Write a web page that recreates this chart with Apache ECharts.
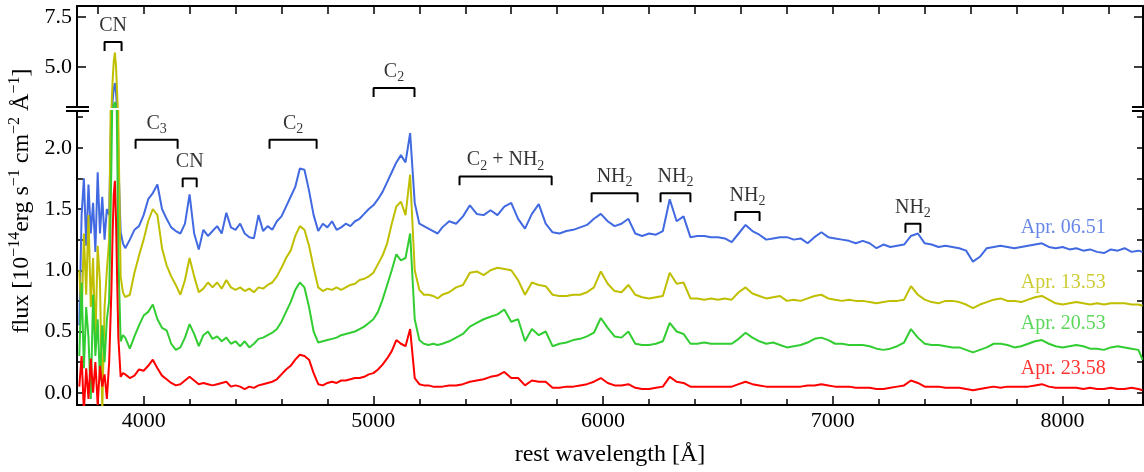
<!DOCTYPE html>
<html>
<head>
<meta charset="utf-8">
<script src="https://cdn.jsdelivr.net/npm/echarts@6/dist/echarts.min.js"></script>
<style>
  html, body { margin: 0; padding: 0; background: #fff; }
  #chart { width: 1144px; height: 472px; }
</style>
</head>
<body>
<div id="chart"></div>
<script>
  // rest wavelength grid [A]
  var wavelength = [
    3720, 3730, 3740, 3750, 3760, 3770, 3780, 3790, 3800, 3810, 3820, 3830, 3840,
    3850, 3860, 3865, 3870, 3875, 3880, 3885, 3890, 3900, 3910,
    3920, 3940, 3960, 3980, 4000, 4020, 4040, 4060, 4080, 4100,
    4120, 4140, 4160, 4180, 4200, 4220, 4240, 4260, 4280, 4300,
    4320, 4340, 4360, 4380, 4400, 4420, 4440, 4460, 4480, 4500,
    4520, 4540, 4560, 4580, 4600, 4620, 4640, 4660, 4680, 4700,
    4720, 4740, 4760, 4780, 4800, 4820, 4840, 4860, 4880, 4900,
    4920, 4940, 4960, 4980, 5000, 5020, 5040, 5060, 5080, 5100,
    5120, 5140, 5160, 5180, 5200, 5220, 5240, 5260, 5280, 5300,
    5330, 5360, 5390, 5420, 5450, 5480, 5510, 5540, 5570, 5600,
    5630, 5660, 5690, 5720, 5750, 5780, 5810, 5840, 5870, 5900,
    5930, 5960, 5990, 6020, 6050, 6080, 6110, 6140, 6170, 6200,
    6230, 6260, 6290, 6320, 6350, 6380, 6410, 6440, 6470, 6500,
    6530, 6560, 6590, 6620, 6650, 6680, 6710, 6740, 6770, 6800,
    6830, 6860, 6890, 6920, 6950, 6980, 7010, 7040, 7070, 7100,
    7130, 7160, 7190, 7220, 7250, 7280, 7310, 7340, 7370, 7400,
    7430, 7460, 7490, 7520, 7550, 7580, 7610, 7640, 7670, 7700,
    7730, 7760, 7790, 7820, 7850, 7880, 7910, 7940, 7970, 8000,
    8030, 8060, 8090, 8120, 8150, 8180, 8210, 8240, 8270, 8300,
    8330, 8348
  ]

  // flux [1e-14 erg s-1 cm-2 A-1], with offsets as plotted
  var fluxApr06 = [
    0.55, 1.45, 1.75, 1.20, 1.70, 1.30, 1.55, 1.15, 1.80, 1.30, 1.60, 1.25, 1.50,
    1.45, 2.40, 3.30, 3.90, 4.20, 3.70, 2.80, 1.90, 1.31, 1.22,
    1.18, 1.25, 1.33, 1.36, 1.45, 1.58, 1.63, 1.70, 1.50, 1.42,
    1.35, 1.32, 1.30, 1.38, 1.62, 1.30, 1.17, 1.33, 1.28, 1.32,
    1.36, 1.30, 1.47, 1.35, 1.33, 1.38, 1.30, 1.27, 1.26, 1.45,
    1.32, 1.36, 1.33, 1.40, 1.44, 1.52, 1.60, 1.68, 1.83, 1.82,
    1.65, 1.45, 1.32, 1.38, 1.35, 1.40, 1.33, 1.35, 1.38, 1.36,
    1.40, 1.42, 1.46, 1.50, 1.53, 1.58, 1.64, 1.72, 1.80, 1.88,
    1.94, 1.88, 2.12, 1.55, 1.38, 1.36, 1.34, 1.32, 1.30, 1.35,
    1.40, 1.38, 1.44, 1.53, 1.46, 1.45, 1.49, 1.45, 1.52, 1.55,
    1.42, 1.34, 1.46, 1.54, 1.38, 1.31, 1.30, 1.32, 1.33, 1.35,
    1.37, 1.42, 1.46, 1.40, 1.36, 1.38, 1.42, 1.30, 1.28, 1.30,
    1.29, 1.32, 1.58, 1.40, 1.44, 1.27, 1.28, 1.28, 1.27, 1.27,
    1.26, 1.23, 1.30, 1.37, 1.32, 1.29, 1.25, 1.26, 1.27, 1.27,
    1.25, 1.26, 1.22, 1.27, 1.31, 1.27, 1.26, 1.25, 1.24, 1.22,
    1.24, 1.22, 1.18, 1.21, 1.19, 1.20, 1.21, 1.28, 1.30, 1.22,
    1.21, 1.19, 1.20, 1.19, 1.18, 1.16, 1.07, 1.11, 1.18, 1.19,
    1.20, 1.19, 1.18, 1.19, 1.20, 1.21, 1.22, 1.19, 1.18, 1.19,
    1.17, 1.18, 1.16, 1.17, 1.15, 1.14, 1.17, 1.16, 1.18, 1.15,
    1.16, 1.15
  ]
  var fluxApr13 = [
    1.00, 0.60, 1.30, 0.80, 1.45, 0.70, 1.10, 0.40, 1.20, 0.90, -0.15, 0.70, 1.00,
    1.25, 2.90, 4.30, 5.30, 5.72, 5.00, 3.60, 2.20, 0.95, 0.82,
    0.78, 0.80, 0.98, 1.12, 1.25, 1.40, 1.50, 1.45, 1.18, 1.04,
    0.95, 0.88, 0.80, 0.92, 1.10, 0.95, 0.82, 0.85, 0.90, 0.86,
    0.90, 0.85, 0.92, 0.86, 0.84, 0.86, 0.83, 0.85, 0.82, 0.86,
    0.85, 0.88, 0.90, 0.95, 1.02, 1.10, 1.16, 1.28, 1.36, 1.33,
    1.20, 1.02, 0.86, 0.83, 0.85, 0.84, 0.86, 0.84, 0.86, 0.88,
    0.89, 0.92, 0.93, 0.95, 0.98, 1.05, 1.12, 1.22, 1.38, 1.52,
    1.56, 1.45, 1.78, 1.00, 0.84, 0.80, 0.80, 0.79, 0.77, 0.80,
    0.82, 0.86, 0.88, 0.98, 0.99, 0.96, 1.00, 1.02, 1.01, 1.00,
    0.92, 0.80, 0.90, 0.88, 0.87, 0.80, 0.79, 0.79, 0.80, 0.80,
    0.82, 0.86, 0.99, 0.89, 0.83, 0.82, 0.88, 0.80, 0.78, 0.77,
    0.78, 0.79, 0.98, 0.89, 0.90, 0.77, 0.77, 0.76, 0.77, 0.76,
    0.77, 0.76, 0.82, 0.86, 0.81, 0.79, 0.77, 0.78, 0.79, 0.75,
    0.76, 0.75, 0.77, 0.79, 0.80, 0.77, 0.76, 0.75, 0.76, 0.75,
    0.75, 0.74, 0.73, 0.74, 0.75, 0.75, 0.76, 0.87, 0.80, 0.76,
    0.74, 0.73, 0.75, 0.75, 0.74, 0.72, 0.69, 0.72, 0.74, 0.76,
    0.77, 0.75, 0.75, 0.74, 0.76, 0.78, 0.79, 0.76, 0.73, 0.72,
    0.73, 0.74, 0.73, 0.72, 0.73, 0.72, 0.73, 0.73, 0.73, 0.72,
    0.72, 0.71
  ]
  var fluxApr20 = [
    0.30, 0.90, 0.20, 0.70, 0.45, -0.05, 0.80, 0.30, 0.60, 0.10, 0.55, 0.25, 0.60,
    0.75, 1.90, 2.60, 3.10, 3.25, 2.80, 2.00, 1.10, 0.42, 0.47,
    0.45, 0.36, 0.46, 0.55, 0.63, 0.66, 0.72, 0.60, 0.53, 0.51,
    0.40, 0.35, 0.37, 0.45, 0.56, 0.48, 0.38, 0.47, 0.50, 0.44,
    0.46, 0.42, 0.45, 0.40, 0.42, 0.38, 0.42, 0.37, 0.40, 0.44,
    0.45, 0.47, 0.49, 0.52, 0.58, 0.66, 0.74, 0.84, 0.90, 0.86,
    0.70, 0.50, 0.41, 0.42, 0.43, 0.44, 0.45, 0.47, 0.48, 0.49,
    0.50, 0.52, 0.54, 0.57, 0.60, 0.66, 0.76, 0.88, 1.00, 1.13,
    1.08, 1.10, 1.30, 0.60, 0.43, 0.40, 0.39, 0.40, 0.39, 0.40,
    0.42, 0.45, 0.48, 0.54, 0.57, 0.60, 0.62, 0.64, 0.68, 0.58,
    0.60, 0.42, 0.52, 0.47, 0.50, 0.38, 0.40, 0.41, 0.43, 0.44,
    0.46, 0.49, 0.61, 0.53, 0.46, 0.45, 0.50, 0.40, 0.39, 0.39,
    0.40, 0.42, 0.57, 0.50, 0.48, 0.40, 0.40, 0.41, 0.40, 0.40,
    0.40, 0.40, 0.44, 0.49, 0.45, 0.42, 0.40, 0.41, 0.39, 0.37,
    0.38, 0.39, 0.41, 0.44, 0.45, 0.43, 0.40, 0.40, 0.39, 0.39,
    0.39, 0.38, 0.36, 0.35, 0.36, 0.38, 0.41, 0.52, 0.45, 0.40,
    0.39, 0.39, 0.38, 0.37, 0.37, 0.35, 0.33, 0.35, 0.37, 0.40,
    0.40, 0.39, 0.37, 0.38, 0.40, 0.42, 0.43, 0.40, 0.38, 0.37,
    0.38, 0.39, 0.38, 0.36, 0.36, 0.35, 0.37, 0.38, 0.37, 0.36,
    0.35, 0.27
  ]
  var fluxApr23 = [
    0.05, 0.30, -0.15, 0.20, -0.05, 0.28, 0.00, 0.25, -0.10, 0.22, 0.05, 0.15, -0.05,
    0.25, 0.85, 1.30, 1.62, 1.73, 1.40, 0.90, 0.45, 0.13, 0.16,
    0.15, 0.12, 0.14, 0.19, 0.18, 0.22, 0.27, 0.20, 0.14, 0.11,
    0.08, 0.06, 0.07, 0.10, 0.13, 0.10, 0.07, 0.08, 0.07, 0.06,
    0.07, 0.08, 0.09, 0.05, 0.06, 0.05, 0.03, 0.05, 0.04, 0.06,
    0.07, 0.08, 0.09, 0.11, 0.15, 0.19, 0.22, 0.27, 0.31, 0.30,
    0.27, 0.16, 0.07, 0.06, 0.08, 0.09, 0.08, 0.10, 0.10, 0.11,
    0.12, 0.12, 0.13, 0.15, 0.16, 0.19, 0.23, 0.28, 0.34, 0.43,
    0.40, 0.38, 0.52, 0.12, 0.07, 0.06, 0.06, 0.05, 0.05, 0.05,
    0.06, 0.06, 0.07, 0.09, 0.10, 0.11, 0.13, 0.14, 0.17, 0.12,
    0.12, 0.06, 0.10, 0.09, 0.09, 0.04, 0.04, 0.05, 0.05, 0.06,
    0.07, 0.09, 0.12, 0.08, 0.06, 0.06, 0.07, 0.04, 0.03, 0.03,
    0.04, 0.05, 0.13, 0.09, 0.08, 0.05, 0.05, 0.05, 0.05, 0.05,
    0.05, 0.05, 0.07, 0.09, 0.07, 0.06, 0.05, 0.05, 0.05, 0.05,
    0.05, 0.05, 0.06, 0.06, 0.07, 0.06, 0.05, 0.05, 0.05, 0.04,
    0.04, 0.04, 0.03, 0.03, 0.04, 0.05, 0.06, 0.10, 0.08, 0.05,
    0.05, 0.05, 0.04, 0.04, 0.04, 0.03, 0.02, 0.03, 0.04, 0.05,
    0.04, 0.05, 0.05, 0.05, 0.05, 0.06, 0.07, 0.05, 0.04, 0.04,
    0.04, 0.04, 0.03, 0.04, 0.03, 0.03, 0.04, 0.03, 0.03, 0.04,
    0.03, 0.02
  ]

  var dates = ['Apr. 06.51', 'Apr. 13.53', 'Apr. 20.53', 'Apr. 23.58']
  var colors = ['#4169e1', '#bfbf00', '#32cd32', '#ff0000']
  var fluxes = [fluxApr06, fluxApr13, fluxApr20, fluxApr23]
  var dateLabelX = 8190
  var dateLabelY = [1.35, 0.90, 0.56, 0.20]

  // tick values
  var xMajor = [4000, 5000, 6000, 7000, 8000]
  var xMinor = [3800, 4200, 4400, 4600, 4800, 5200, 5400, 5600, 5800, 6200, 6400, 6600, 6800, 7200, 7400, 7600, 7800, 8200]
  var yTopMajor = [5.0, 7.5]
  var yBotMajor = [0.0, 0.5, 1.0, 1.5, 2.0]
  var yBotTicks = [0.0, 0.25, 0.5, 0.75, 1.0, 1.25, 1.5, 1.75, 2.0, 2.25]

  // band annotations: [from, to] wavelength, bracket height, panel (0 = upper)
  var bandText = ['CN', 'C{s|2}', 'C{s|3}', 'CN', 'C{s|2}', 'C{s|2} + NH{s|2}', 'NH{s|2}', 'NH{s|2}', 'NH{s|2}', 'NH{s|2}']
  var bandFrom = [3830, 5001, 3965, 4170, 4548, 5375, 5950, 6250, 6576, 7316]
  var bandTo = [3904, 5179, 4148, 4231, 4753, 5776, 6150, 6380, 6681, 7381]
  var bandTop = [6.25, 3.95, 2.065, 1.75, 2.065, 1.766, 1.629, 1.629, 1.476, 1.379]
  var bandPanel = [0, 0, 1, 1, 1, 1, 1, 1, 1, 1]

  var FONT = 'Liberation Serif'
  var X_MIN = 3710
  var X_MAX = 8350
  var GRID_LEFT = 77
  var GRID_RIGHT = 1
  var TOP_Y = 6
  var TOP_H = 101
  var BOT_Y = 111
  var BOT_H = 297

  var chart = echarts.init(document.getElementById('chart'))

  var tickStyle = { color: '#000', width: 1.5 }
  var lineStyle = { color: '#000', width: 2 }
  var fmt1 = function (v) { return v.toFixed(1) }
  var fmt0 = function (v) { return String(v) }

  var series = []
  fluxes.forEach(function (f, k) {
    var pts = wavelength.map(function (w, i) { return [w, f[i]] })
    ;[[0, 0], [1, 2]].forEach(function (ax) {
      series.push({
        type: 'line',
        xAxisIndex: ax[0],
        yAxisIndex: ax[1],
        data: pts,
        symbol: 'none',
        clip: true,
        silent: true,
        lineStyle: { color: colors[k], width: 2 },
      })
    })
    series.push({
      type: 'scatter',
      xAxisIndex: 1,
      yAxisIndex: 2,
      symbolSize: 1,
      silent: true,
      itemStyle: { color: 'rgba(0,0,0,0)' },
      data: [[dateLabelX, dateLabelY[k]]],
      label: {
        show: true,
        position: 'left',
        distance: 0,
        formatter: dates[k],
        color: colors[k],
        fontFamily: FONT,
        fontSize: 20,
      },
    })
  })

  bandText.forEach(function (t, i) {
    var up = bandPanel[i] === 0
    var leg = up ? 0.45 : 0.073
    var top = bandTop[i]
    series.push({
      type: 'line',
      xAxisIndex: up ? 0 : 1,
      yAxisIndex: up ? 0 : 2,
      symbol: 'none',
      silent: true,
      clip: false,
      lineStyle: { color: '#000', width: 2 },
      data: [[bandFrom[i], top - leg], [bandFrom[i], top], [bandTo[i], top], [bandTo[i], top - leg]],
    })
    series.push({
      type: 'scatter',
      xAxisIndex: up ? 0 : 1,
      yAxisIndex: up ? 0 : 2,
      symbolSize: 1,
      silent: true,
      itemStyle: { color: 'rgba(0,0,0,0)' },
      data: [[(bandFrom[i] + bandTo[i]) / 2, top]],
      label: {
        show: true,
        position: 'top',
        distance: 3,
        formatter: t,
        color: '#000',
        fontFamily: FONT,
        fontSize: 20,
        lineHeight: 26,
        rich: {
          s: { fontFamily: FONT, fontSize: 14, lineHeight: 14, verticalAlign: 'bottom', color: '#000' },
        },
      },
    })
  })

  var breakMarks = []
  ;[GRID_LEFT, 1144 - GRID_RIGHT].forEach(function (x) {
    ;[TOP_Y + TOP_H, BOT_Y].forEach(function (y) {
      breakMarks.push({
        type: 'line',
        shape: { x1: x - 11, y1: y, x2: x + 12, y2: y },
        style: { stroke: '#000', lineWidth: 2 },
        silent: true,
      })
    })
  })

  chart.setOption({
    animation: false,
    backgroundColor: '#fff',
    grid: [
      { left: GRID_LEFT, right: GRID_RIGHT, top: TOP_Y, height: TOP_H },
      { left: GRID_LEFT, right: GRID_RIGHT, top: BOT_Y, height: BOT_H },
    ],
    xAxis: [
      {
        gridIndex: 0, type: 'value', position: 'top', min: X_MIN, max: X_MAX,
        axisLine: { show: true, onZero: false, lineStyle: lineStyle },
        axisTick: { show: true, inside: true, length: 8, customValues: xMajor.concat(xMinor), lineStyle: tickStyle },
        axisLabel: { show: false },
        splitLine: { show: false },
      },
      {
        gridIndex: 1, type: 'value', position: 'bottom', min: X_MIN, max: X_MAX,
        axisLine: { show: true, onZero: false, lineStyle: lineStyle },
        axisTick: { show: true, inside: true, length: 9, customValues: xMajor, lineStyle: tickStyle },
        axisLabel: { show: true, customValues: xMajor, formatter: fmt0, fontFamily: FONT, fontSize: 22, color: '#000', margin: 5 },
        splitLine: { show: false },
        name: 'rest wavelength [Å]',
        nameLocation: 'middle',
        nameGap: 38,
        nameTextStyle: { fontFamily: FONT, fontSize: 24, color: '#000' },
      },
      {
        gridIndex: 1, type: 'value', position: 'bottom', min: X_MIN, max: X_MAX,
        axisLine: { show: false, onZero: false },
        axisTick: { show: true, inside: true, length: 6, customValues: xMinor, lineStyle: tickStyle },
        axisLabel: { show: false },
        splitLine: { show: false },
      },
    ],
    yAxis: [
      {
        gridIndex: 0, type: 'value', position: 'left', min: 3.0, max: 8.05,
        axisLine: { show: true, onZero: false, lineStyle: lineStyle },
        axisTick: { show: true, inside: true, length: 9, customValues: yTopMajor, lineStyle: tickStyle },
        axisLabel: { show: true, customValues: yTopMajor, formatter: fmt1, fontFamily: FONT, fontSize: 22, color: '#000', margin: 5 },
        splitLine: { show: false },
      },
      {
        gridIndex: 0, type: 'value', position: 'right', min: 3.0, max: 8.05,
        axisLine: { show: true, onZero: false, lineStyle: lineStyle },
        axisTick: { show: true, inside: true, length: 9, customValues: yTopMajor, lineStyle: tickStyle },
        axisLabel: { show: false },
        splitLine: { show: false },
      },
      {
        gridIndex: 1, type: 'value', position: 'left', min: -0.1, max: 2.3,
        axisLine: { show: true, onZero: false, lineStyle: lineStyle },
        axisTick: { show: true, inside: true, length: 6, customValues: yBotTicks, lineStyle: tickStyle },
        axisLabel: { show: true, customValues: yBotMajor, formatter: fmt1, fontFamily: FONT, fontSize: 22, color: '#000', margin: 5 },
        splitLine: { show: false },
      },
      {
        gridIndex: 1, type: 'value', position: 'right', min: -0.1, max: 2.3,
        axisLine: { show: true, onZero: false, lineStyle: lineStyle },
        axisTick: { show: true, inside: true, length: 6, customValues: yBotTicks, lineStyle: tickStyle },
        axisLabel: { show: false },
        splitLine: { show: false },
      },
    ],
    graphic: breakMarks.concat([
      {
        type: 'text',
        x: 22,
        y: 201,
        rotation: Math.PI / 2,
        silent: true,
        style: {
          text: 'flux [10{sup|−14}erg s{sup|−1} cm{sup|−2} Å{sup|−1}]',
          fontFamily: FONT,
          fontSize: 24,
          lineHeight: 30,
          fill: '#000',
          align: 'center',
          verticalAlign: 'middle',
          rich: {
            sup: { fontFamily: FONT, fontSize: 16, lineHeight: 16, verticalAlign: 'top', fill: '#000' },
          },
        },
      },
    ]),
    series: series,
  })

  window.addEventListener('resize', function () {
    chart.resize()
  })
</script>
</body>
</html>
